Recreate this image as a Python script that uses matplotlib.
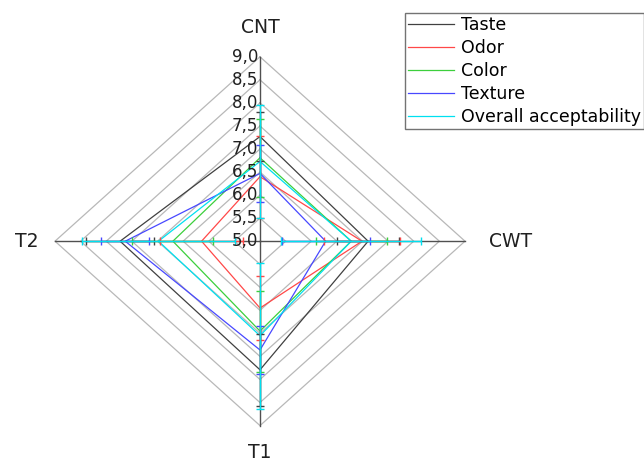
import numpy as np
import matplotlib
matplotlib.use("Agg")
import matplotlib.pyplot as plt

# ---- data ----
axes_names = ["CNT", "CWT", "T1", "T2"]
series = ["Taste", "Odor", "Color", "Texture", "Overall acceptability"]
taste = [7.27, 7.11, 7.79, 7.73]
odor = [6.40, 6.99, 6.45, 6.14]
color = [6.81, 6.78, 6.95, 6.70]
texture = [6.47, 6.28, 7.36, 7.63]
overall = [6.73, 6.78, 7.05, 6.98]
taste_sd = [0.54, 0.61, 0.78, 0.67]
odor_sd = [0.89, 0.74, 0.70, 0.81]
color_sd = [0.85, 0.69, 0.88, 0.79]
texture_sd = [0.62, 0.86, 0.51, 0.47]
overall_sd = [1.23, 1.37, 1.58, 1.50]
r_min, r_max, r_step = 5.0, 9.0, 0.5
tick_labels = ["5,0", "5,5", "6,0", "6,5", "7,0", "7,5", "8,0", "8,5", "9,0"]

values = [taste, odor, color, texture, overall]
sds = [taste_sd, odor_sd, color_sd, texture_sd, overall_sd]
colors = ["#404040", "#ff4848", "#3ccf3c", "#4848ff", "#00e0f0"]

W, H = 644, 461
fig = plt.figure(figsize=(W / 100, H / 100), dpi=100)
ax = fig.add_axes([0, 0, 1, 1])
cx, cy = 260.0, 241.2
ux, uy = 51.25, 46.1
ax.set_xlim(-cx / ux, (W - cx) / ux)
ax.set_ylim(-(H - cy) / uy, cy / uy)
ax.axis("off")

# direction vectors: CNT up, CWT right, T1 down, T2 left
dirs = [(0, 1), (1, 0), (0, -1), (-1, 0)]

def pt(i, v):
    r = v - r_min
    return dirs[i][0] * r, dirs[i][1] * r

# grid diamonds
levels = np.arange(r_min + r_step, r_max + 1e-9, r_step)
for lv in levels:
    xs = [pt(i, lv)[0] for i in range(4)] + [pt(0, lv)[0]]
    ys = [pt(i, lv)[1] for i in range(4)] + [pt(0, lv)[1]]
    ax.plot(xs, ys, color="#b8b8b8", lw=0.9, zorder=1)

# axis spokes
for i in range(4):
    x1, y1 = pt(i, r_max)
    ax.plot([0, x1], [0, y1], color="#505050", lw=1.0, zorder=2)

# series polygons
for k, (vals, col) in enumerate(zip(values, colors)):
    xs = [pt(i, v)[0] for i, v in enumerate(vals)]
    ys = [pt(i, v)[1] for i, v in enumerate(vals)]
    ax.plot(xs + xs[:1], ys + ys[:1], color=col, lw=0.9, zorder=3 + k, label=series[k])

# error bars along spokes
for k, (vals, sdv, col) in enumerate(zip(values, sds, colors)):
    for i, (v, s) in enumerate(zip(vals, sdv)):
        x, y = pt(i, v)
        if dirs[i][0] == 0:
            ax.errorbar([x], [y], yerr=[s], fmt="none", ecolor=col, elinewidth=1.0,
                        capsize=2.6, capthick=1.0, zorder=10 + k)
        else:
            ax.errorbar([x], [y], xerr=[s], fmt="none", ecolor=col, elinewidth=1.0,
                        capsize=2.6, capthick=1.0, zorder=10 + k)

# radial tick labels on the CNT spoke
for j, lab in enumerate(tick_labels):
    v = r_min + j * r_step
    x, y = pt(0, v)
    ax.text(x - 2 / ux, y, lab, ha="right", va="center", fontsize=12,
            family="DejaVu Sans", color="#202020", zorder=20)

# axis name labels
off = [(0, 214 / uy), (251 / ux, 0), (0, -211 / uy), (-233 / ux, 0)]
for i, name in enumerate(axes_names):
    ax.text(off[i][0], off[i][1], name, ha="center", va="center", fontsize=13.5,
            family="DejaVu Sans", color="#202020")

leg = ax.legend(loc="upper left", bbox_to_anchor=(405 / W, 1 - 13 / H),
                bbox_transform=fig.transFigure, frameon=True, fancybox=False,
                prop={"family": "DejaVu Sans", "size": 12.5}, handlelength=2.65,
                handletextpad=0.4, labelspacing=0.29, borderpad=0.17,
                borderaxespad=0)
leg.get_frame().set_edgecolor("#505050")
leg.get_frame().set_linewidth(1.0)

fig.savefig("out.png", dpi=100)
